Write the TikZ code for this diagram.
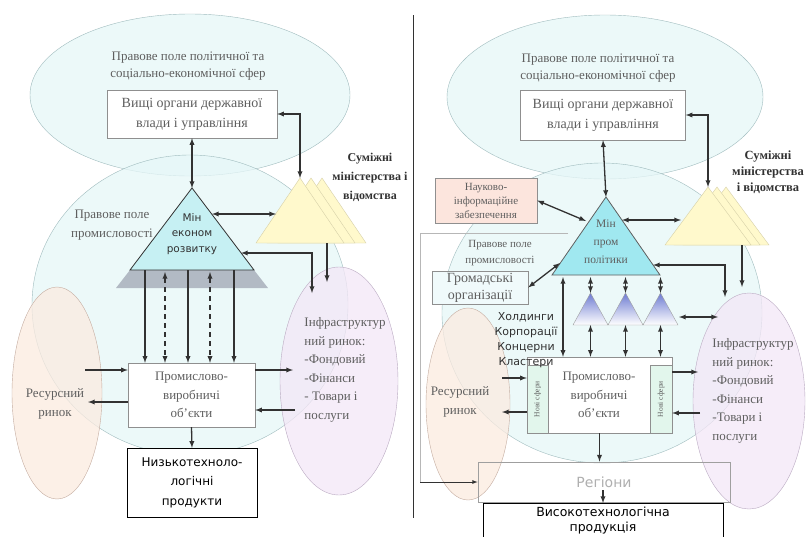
\documentclass[tikz,border=0pt]{standalone}
\usepackage{fontspec}
\setmainfont{Liberation Serif}
\newfontfamily\sansfnt{DejaVu Sans}
\usetikzlibrary{arrows,shapes.geometric}
\definecolor{Ce}{RGB}{230,247,248}
\definecolor{Co}{RGB}{160,188,190}
\definecolor{Pe}{RGB}{251,235,224}
\definecolor{Po}{RGB}{196,172,160}
\definecolor{Le}{RGB}{244,231,247}
\definecolor{Lo}{RGB}{186,170,194}
\definecolor{Ye}{RGB}{255,249,204}
\definecolor{Yo}{RGB}{214,208,168}
\definecolor{Cm}{RGB}{198,240,243}
\definecolor{Cr}{RGB}{160,232,240}
\definecolor{Gt}{RGB}{178,186,196}
\definecolor{Nk}{RGB}{252,229,221}
\definecolor{Nf}{RGB}{226,246,236}
\definecolor{Bt}{RGB}{110,124,210}
\definecolor{T}{RGB}{95,95,95}
\definecolor{Dk}{RGB}{50,50,50}
\tikzset{
  ell/.style={ellipse, inner sep=0, draw=Co, fill=Ce, fill opacity=0.75, text opacity=1},
  res/.style={ellipse, inner sep=0, draw=Po, fill=Pe, fill opacity=0.75},
  inf/.style={ellipse, inner sep=0, draw=Lo, fill=Le, fill opacity=0.75},
  txt/.style={font=\fontsize{13}{18.5}\selectfont, text=T, align=center},
  sml/.style={font=\fontsize{11}{16}\selectfont, text=T, align=center},
  box/.style={draw=T!70, fill=white, inner sep=0},
  sbox/.style={draw=black, fill=white, inner sep=0, align=center, font=\sansfnt\fontsize{12}{19.5}\selectfont},
  con/.style={draw=Dk, line width=1.3pt},
  dcon/.style={con, dash pattern=on 5pt off 4pt},
  frame/.style={draw=T!45, line width=0.8pt}
}
\begin{document}
\begin{tikzpicture}[x=1pt,y=-1pt,>=latex]
  \useasboundingbox (0,0) rectangle (811,536);
  \fill[white] (0,0) rectangle (811,536);
  % left half
  \node[ell, minimum width=320, minimum height=162] (topL) at (190,95) {};
  \node[ell, minimum width=316, minimum height=300] (indL) at (190,305) {};
  \node[res, minimum width=90, minimum height=212] (resL) at (57,393) {};
  \node[inf, minimum width=118, minimum height=228] (infL) at (339,381) {};
  \node[txt, font=\fontsize{13}{17}\selectfont] (poleTopL) at (188,66) {Правове поле політичної та\\соціально-економічної сфер};
  \node[txt] (poleL) at (112,225) {Правове поле\\промисловості};
  \node[box, txt, font=\fontsize{14}{20}\selectfont, minimum width=170, minimum height=48] (vladaL) at (192,114) {Вищі органи державної\\влади і управління};
  % ministries
  \foreach \dx in {22,11,0}
    \draw[draw=Yo, fill=Ye] (300+\dx,178) -- (344+\dx,243) -- (256+\dx,243) -- cycle;
  \coordinate (minsL) at (300,178);
  \node[txt, font=\bfseries\fontsize{12}{19}\selectfont, text=Dk] (minsLt) at (370,177) {Суміжні\\міністерства і\\відомства};
  % ministry of economy
  \coordinate (minLa) at (192,188);
  \coordinate (minLb) at (130,270);
  \coordinate (minLc) at (254,270);
  \fill[Gt] (minLb) -- (minLc) -- (268,288) -- (116,288) -- cycle;
  \draw[draw=Dk, fill=Cm, line width=0.8pt] (minLa) -- (minLc) -- (minLb) -- cycle;
  \node[font=\sansfnt\fontsize{10.5}{15.5}\selectfont, text=Dk, align=center] (minLt) at (192,234) {Мін\\економ\\розвитку};
  \node[box, txt, minimum width=127, minimum height=64] (prodL) at (191.5,395) {Промислово-\\виробничі\\об'єкти};
  \node[sbox, minimum width=130, minimum height=69] (lowL) at (192,482.5) {Низькотехноло-\\логічні\\продукти};
  \node[txt] (resLt) at (55,404) {Ресурсний\\ринок};
  \node[txt, align=left] (infLt) at (345,370) {Інфраструктур\\ний ринок:\\-Фондовий\\-Фінанси\\- Товари і\\послуги};
  % links
  \draw[con,<->] (vladaL.south) -- (minLa);
  \draw[con,<->] (vladaL.east) -| (minsL);
  \coordinate (aL1) at (212,214);
  \coordinate (aL2) at (276,214);
  \draw[con,<->] (aL1) -- (aL2);
  \coordinate (aL3) at (241,253);
  \coordinate (aL4) at (312,293);
  \draw[con,<->] (aL3) -| (aL4);
  \coordinate (aL5) at (327,243);
  \coordinate (aL6) at (327,282);
  \draw[con,->] (aL5) -- (aL6);
  \foreach \x in {145,188,234}
    \draw[con,->] (\x,0 |- minLb) -- (\x,0 |- prodL.north);
  \foreach \x in {165,210}
    \draw[dcon,<->] (\x,272) -- (\x,0 |- prodL.north);
  \coordinate (rL1) at (85,370);
  \coordinate (rL2) at (88,402);
  \draw[con,->] (rL1) -- (rL1 -| prodL.west);
  \draw[con,<-] (rL2) -- (rL2 -| prodL.west);
  \coordinate (iL1) at (293,370);
  \coordinate (iL2) at (295,410);
  \draw[con,<-] (iL1) -- (iL1 -| prodL.east);
  \draw[con,->] (iL2) -- (iL2 -| prodL.east);
  \draw[con,->] (prodL.south) -- (lowL.north);
  % divider
  \coordinate (divT) at (413,15);
  \coordinate (divB) at (413,518);
  \draw[Dk, line width=1pt] (divT) -- (divB);
  % right half
  \node[ell, minimum width=316, minimum height=164] (topR) at (605,97) {};
  \node[ell, minimum width=320, minimum height=300] (indR) at (602,313) {};
  \node[res, minimum width=84, minimum height=192] (resR) at (468,404) {};
  \node[inf, minimum width=112, minimum height=216] (infR) at (749,401) {};
  \node[draw=T!60, line width=0.8pt, minimum width=252, minimum height=40, font=\sansfnt\fontsize{14}{16}\selectfont, text=T!50] (regR) at (604,482) {Регіони};
  \coordinate (frS) at (568,233);
  \coordinate (frC) at (420,482);
  \draw[frame] (frS) -| (frC);
  \draw[con,->, line width=0.8pt] (frC) -- (frC -| regR.west);
  \node[txt, font=\fontsize{13}{17}\selectfont] (poleTopR) at (598,68) {Правове поле політичної та\\соціально-економічної сфер};
  \node[box, txt, font=\fontsize{14}{20}\selectfont, minimum width=165, minimum height=50] (vladaR) at (603,115) {Вищі органи державної\\влади і управління};
  \node[sml] (poleR) at (500,253) {Правове поле\\промисловості};
  \node[box, sml, fill=Nk, font=\fontsize{11}{14}\selectfont, minimum width=102, minimum height=45] (nauka) at (486,200.5) {Науково-\\інформаційне\\забезпечення};
  \node[box, txt, fill=Ce!60, font=\fontsize{14}{17}\selectfont, minimum width=96, minimum height=33] (grom) at (480,287.5) {Громадські\\організації};
  \foreach \dx in {18,9,0}
    \draw[draw=Yo, fill=Ye] (708+\dx,187) -- (751+\dx,245) -- (665+\dx,245) -- cycle;
  \coordinate (minsR) at (708,187);
  \node[txt, font=\bfseries\fontsize{12.5}{16}\selectfont, text=Dk] (minsRt) at (768,172) {Суміжні\\міністерства\\і відомства};
  \coordinate (minRa) at (606,197);
  \coordinate (minRb) at (552,275);
  \coordinate (minRc) at (660,275);
  \draw[draw=T, fill=Cr, line width=0.8pt] (minRa) -- (minRc) -- (minRb) -- cycle;
  \node[txt, font=\fontsize{11.5}{18}\selectfont] (minRt) at (606,242) {Мін\\пром\\політики};
  \foreach \k in {0,1,2}
    \shade[top color=Bt, bottom color=white, draw=T!60] (590.5+35*\k,293) -- (608+35*\k,325) -- (573+35*\k,325) -- cycle;
  \node[box, minimum width=145, minimum height=76] (prodR) at (599.5,395) {};
  \node[draw=T!70, fill=Nf, inner sep=0, minimum width=21, minimum height=68] (novL) at (537.5,399) {};
  \node[draw=T!70, fill=Nf, inner sep=0, minimum width=22, minimum height=68] (novR) at (661,399) {};
  \node[sml, rotate=90, font=\fontsize{7.5}{8}\selectfont] at (novL) {Нові сфери};
  \node[sml, rotate=90, font=\fontsize{7.5}{8}\selectfont] at (novR) {Нові сфери};
  \node[txt] (prodRt) at (599,395) {Промислово-\\виробничі\\об'єкти};
  \node[font=\sansfnt\fontsize{11}{15}\selectfont, text=Dk, align=center] (hold) at (526,340) {Холдинги\\Корпорації\\Концерни\\Кластери};
  \node[sbox, font=\sansfnt\fontsize{12.5}{15}\selectfont, minimum width=240, minimum height=34, anchor=north] (vysok) at (603,503) {Високотехнологічна\\продукція};
  \node[txt] (resRt) at (460,402) {Ресурсний\\ринок};
  \node[txt, align=left] (infRt) at (753,391) {Інфраструктур\\ний ринок:\\-Фондовий\\-Фінанси\\-Товари і\\послуги};
  % links
  \draw[con,<->] (vladaR.south) -- (minRa);
  \draw[con,<->] (vladaR.east) -| (minsR);
  \coordinate (aR2) at (586,221);
  \draw[con,<->] (nauka.east) -- (aR2);
  \coordinate (aR3) at (622,220);
  \coordinate (aR4) at (681,220);
  \draw[con,<->] (aR3) -- (aR4);
  \coordinate (aR5) at (560,263);
  \draw[con,<->] (grom.east) -- (aR5);
  \coordinate (aR6) at (653,265);
  \coordinate (aR7) at (725,297);
  \draw[con,<->] (aR6) -| (aR7);
  \coordinate (aR8) at (742,245);
  \coordinate (aR9) at (742,287);
  \draw[con,->] (aR8) -- (aR9);
  \coordinate (aR10) at (718,317);
  \coordinate (aR11) at (679,317);
  \draw[con,<->] (aR10) -- (aR11);
  \draw[con,<->] (563,277) -- (563,0 |- prodR.north);
  \foreach \k in {0,1,2} {
    \draw[con,<->] (590.5+35*\k,277) -- (590.5+35*\k,293);
    \draw[con,<->] (590.5+35*\k,325) -- (590.5+35*\k,0 |- prodR.north);
  }
  \coordinate (rR1) at (502,378);
  \coordinate (rR2) at (502,412);
  \draw[con,->] (rR1) -- (rR1 -| prodR.west);
  \draw[con,<-] (rR2) -- (rR2 -| prodR.west);
  \coordinate (iR1) at (698,372);
  \coordinate (iR2) at (700,413);
  \draw[con,<-] (iR1) -- (iR1 -| prodR.east);
  \draw[con,->] (iR2) -- (iR2 -| prodR.east);
  \draw[con,->] (prodR.south) -- (prodR.south |- regR.north);
  \coordinate (regA) at (603,490);
  \draw[con,->] (regA) -- (vysok.north);
\end{tikzpicture}
\end{document}
